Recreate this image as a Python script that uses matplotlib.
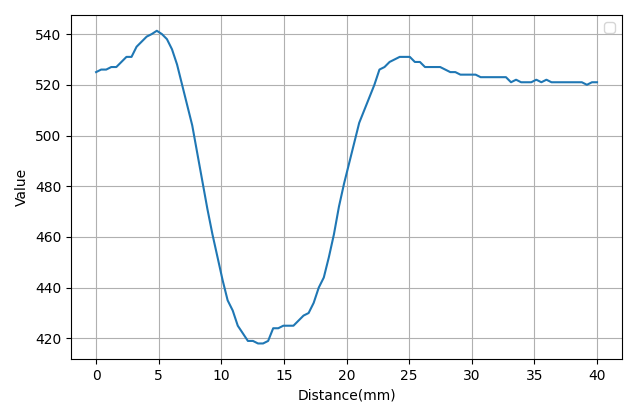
import numpy as np
import matplotlib
matplotlib.use("Agg")
import matplotlib.pyplot as plt

# Profile values, 100 samples over 0-40 mm
distance = np.linspace(0, 40, 100)
value = [
    525, 526, 526, 527, 527, 529, 531, 531, 535, 537, 539, 540, 541.3, 540, 538, 534,
    528, 520, 512, 504, 493, 482, 471, 461, 452, 443, 435,
    431, 425, 422, 419, 419, 418, 418, 419, 424, 424, 425, 425, 425, 427, 429, 430, 434, 440,
    444, 452, 461, 472, 481, 489, 497, 505, 510, 515, 520, 526, 527, 529, 530, 531, 531, 531,
    529, 529, 527, 527, 527, 527, 526, 525, 525, 524, 524, 524, 524,
    523, 523, 523, 523, 523, 523, 521, 522, 521, 521, 521, 522, 521, 522,
    521, 521, 521, 521, 521, 521, 521, 520, 521, 521,
]

fig = plt.figure(figsize=(6.4, 4.09), dpi=100)
plt.plot(distance, value)
plt.xlabel("Distance(mm)")
plt.ylabel("Value")
plt.grid(True)
plt.legend()
plt.subplots_adjust(left=0.111, right=0.972, top=0.963, bottom=0.122)
plt.savefig("out.png")
